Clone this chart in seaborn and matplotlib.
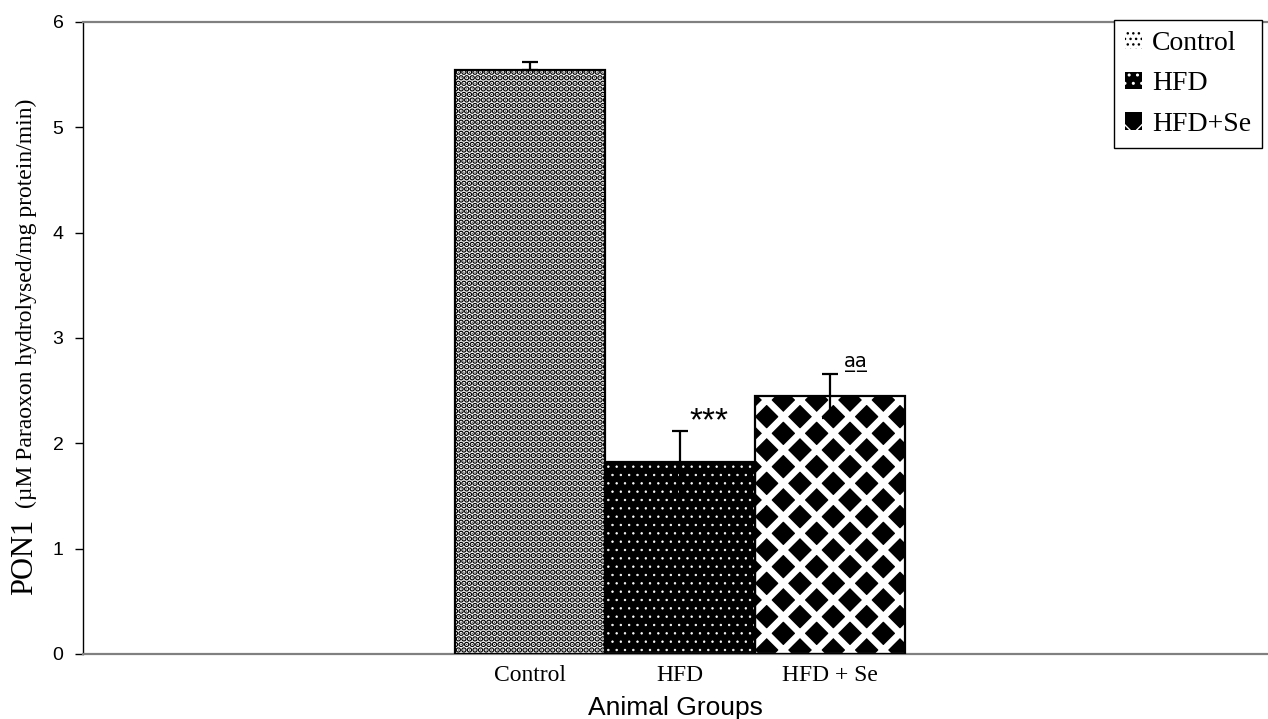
import matplotlib
matplotlib.use("Agg")
import matplotlib.pyplot as plt
from matplotlib.patches import Rectangle
import seaborn as sns

# values
groups = ["Control", "HFD", "HFD + Se"]
legend_labels = ["Control", "HFD", "HFD+Se"]
pon1 = [5.54, 1.82, 2.45]
err_up = [0.08, 0.30, 0.21]
err_down = [0.0, 0.30, 0.21]
marks = ["", "***", "a\u0332a\u0332"]

sns.set_theme(style="white")
for k in ["text.color", "axes.labelcolor", "xtick.color", "ytick.color"]:
    plt.rcParams[k] = "black"

fig = plt.figure(figsize=(12.68, 7.19), dpi=100)
ax = fig.add_axes([83 / 1268, 1 - 654 / 719, 1 - 83 / 1268, (654 - 22) / 719])

sns.barplot(x=groups, y=pon1, hue=groups, palette=["white", "black", "black"],
            width=1.0, legend=False, ax=ax, saturation=1)

# patterns: hatch colour follows the edge colour
hatches = ["...", "..", "x"]
hatch_cols = ["black", "white", "white"]
hatch_lw = [3.0, 0.5, 4.8]
bars = ax.patches[:3]
for p, h, c, lw in zip(bars, hatches, hatch_cols, hatch_lw):
    p.set_hatch(h)
    p.set_edgecolor(c)
    p.set_linewidth(0)
    if hasattr(p, "set_hatch_linewidth"):
        p.set_hatch_linewidth(lw)

centers = [p.get_x() + p.get_width() / 2 for p in bars]
for p in bars:
    ax.add_patch(Rectangle(p.get_xy(), p.get_width(), p.get_height(), fill=False,
                           edgecolor="black", linewidth=1.6, zorder=3))

ax.errorbar(centers, pon1, yerr=[err_down, err_up], fmt="none", ecolor="black",
            elinewidth=1.6, capsize=6, capthick=1.6, zorder=4)

ax.text(centers[1] + 0.19, pon1[1] + err_up[1] + 0.0, marks[1], ha="center",
        va="baseline", fontsize=24, family="Liberation Sans")
ax.text(centers[2] + 0.17, pon1[2] + err_up[2] + 0.06, marks[2], ha="center",
        va="baseline", fontsize=14, family=["DejaVu Sans"])

ax.set_ylim(0, 6)
ax.set_xlim(-2.98, 4.92)
ax.set_yticks(range(0, 7))
ax.tick_params(axis="y", left=True, length=6, width=1, pad=8, labelsize=14)
ax.tick_params(axis="x", bottom=False, length=0, pad=8)
for lab in ax.get_yticklabels():
    lab.set_family("Liberation Sans")
for lab in ax.get_xticklabels():
    lab.set_family("Liberation Serif")
    lab.set_fontsize(17)

ax.spines["right"].set_visible(False)
ax.spines["left"].set_color("black")
ax.spines["left"].set_linewidth(1.0)
for s in ["top", "bottom"]:
    ax.spines[s].set_color("#808080")
    ax.spines[s].set_linewidth(1.6)

ax.set_xlabel("Animal Groups", fontsize=19, family="Liberation Sans", labelpad=7)
ax.set_ylabel("")

# y label: big "PON1" then the smaller unit text on the same baseline
fig.text(32 / 1268, 1 - 595 / 719, "PON1", rotation=90, rotation_mode="anchor",
         ha="left", va="baseline", fontsize=22, family="Liberation Serif")
fig.text(32 / 1268, 1 - 508 / 719, "(\u00b5M Paraoxon hydrolysed/mg protein/min)",
         rotation=90, rotation_mode="anchor", ha="left", va="baseline",
         fontsize=17, family="Liberation Serif")

leg = ax.legend(bars, legend_labels, loc="upper right",
                bbox_to_anchor=(1262 / 1268, 1 - 20 / 719), bbox_transform=fig.transFigure,
                borderaxespad=0, fancybox=False, framealpha=1, handlelength=0.6,
                handleheight=0.6, handletextpad=0.35, labelspacing=0.55,
                borderpad=0.4, prop={"family": "Liberation Serif", "size": 20})
leg.get_frame().set_edgecolor("black")
leg.get_frame().set_linewidth(1.0)

fig.savefig("out.png", dpi=100)
